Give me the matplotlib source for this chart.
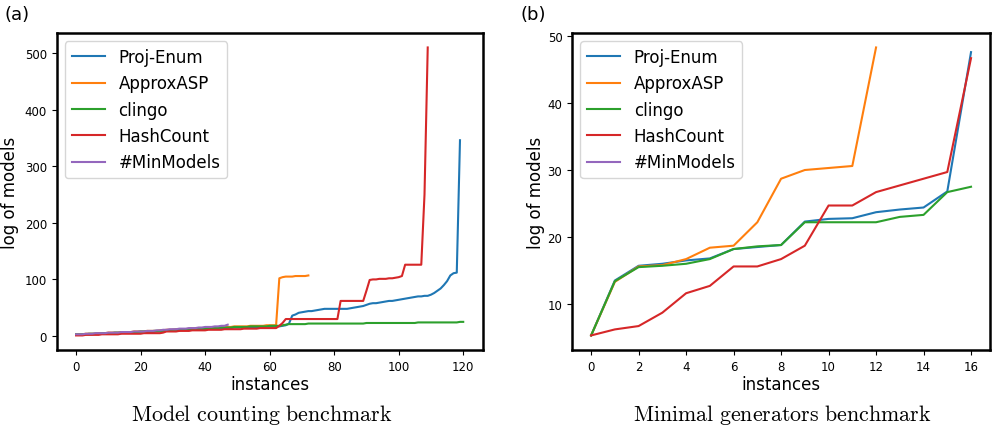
import matplotlib
matplotlib.use('Agg')
import matplotlib.pyplot as plt

plt.rcParams['mathtext.fontset'] = 'cm'

labels = ["Proj-Enum", "ApproxASP", "clingo", "HashCount", "#MinModels"]
colors = ['#1f77b4', '#ff7f0e', '#2ca02c', '#d62728', '#9467bd']

# ── (a) Model counting benchmark: log of models per instance (sorted) ──
a_proj = [2, 2, 3, 3, 3, 3, 4, 4, 4, 4,
          5, 5, 5, 5, 5, 6, 6, 6, 6, 6,
          7, 7, 7, 7, 7, 8, 8, 8, 9, 9,
          10, 10, 10, 11, 11, 11, 11, 12, 12, 12,
          12, 13, 13, 13, 13, 14, 14, 14, 14, 15,
          15, 15, 15, 15, 16, 16, 16, 16, 16, 17,
          17, 17, 17, 17, 18, 19, 22, 36, 38, 41,
          42, 43, 44, 44, 45, 46, 47, 48, 48, 48,
          48, 48, 48, 48, 48, 49, 50, 51, 52, 53,
          55, 57, 58, 58, 59, 60, 61, 62, 62, 63,
          64, 65, 66, 67, 68, 69, 70, 70, 71, 71,
          73, 76, 80, 84, 90, 97, 107, 111, 112, 346]
a_approx = [3, 3, 3, 4, 4, 4, 4, 5, 5, 5,
            6, 6, 6, 6, 7, 7, 7, 7, 8, 8,
            8, 8, 9, 9, 9, 9, 10, 10, 11, 11,
            11, 12, 12, 12, 12, 13, 13, 13, 14, 14,
            14, 14, 15, 15, 15, 16, 16, 16, 16, 17,
            17, 17, 17, 17, 18, 18, 18, 18, 18, 19,
            19, 19, 19, 102, 104, 105, 105, 105, 106, 106,
            106, 106, 107]
a_clingo = [3, 3, 3, 3, 4, 4, 4, 4, 5, 5,
            5, 5, 6, 6, 6, 6, 7, 7, 7, 7,
            8, 8, 8, 8, 9, 9, 9, 10, 10, 10,
            11, 11, 11, 12, 12, 12, 12, 13, 13, 13,
            13, 14, 14, 14, 14, 15, 15, 15, 15, 16,
            16, 16, 16, 16, 17, 17, 17, 17, 17, 17,
            18, 18, 18, 18, 19, 20, 21, 21, 21, 21,
            21, 21, 22, 22, 22, 22, 22, 22, 22, 22,
            22, 22, 22, 22, 22, 22, 22, 22, 22, 22,
            23, 23, 23, 23, 23, 23, 23, 23, 23, 23,
            23, 23, 23, 23, 23, 23, 24, 24, 24, 24,
            24, 24, 24, 24, 24, 24, 24, 24, 24, 25,
            25]
a_hash = [1, 1, 1, 2, 2, 2, 2, 2, 3, 3,
          3, 3, 3, 3, 4, 4, 4, 4, 4, 4,
          4, 5, 5, 5, 5, 5, 5, 6, 8, 8,
          8, 8, 9, 9, 9, 9, 10, 10, 10, 10,
          10, 11, 11, 11, 11, 11, 12, 12, 12, 12,
          12, 12, 13, 13, 13, 13, 13, 14, 14, 14,
          14, 14, 14, 18, 23, 30, 30, 30, 30, 30,
          30, 30, 30, 30, 30, 30, 30, 30, 30, 30,
          30, 30, 62, 62, 62, 62, 62, 62, 62, 62,
          80, 99, 100, 100, 101, 101, 101, 102, 102, 103,
          104, 106, 126, 126, 126, 126, 126, 126, 250, 510]
a_minmod = [3, 3, 3, 4, 4, 4, 5, 5, 5, 5,
            6, 6, 6, 6, 7, 7, 7, 7, 8, 8,
            8, 8, 9, 9, 9, 10, 10, 11, 11, 12,
            12, 12, 13, 13, 13, 14, 14, 14, 15, 15,
            16, 16, 16, 17, 17, 18, 18, 20]

# ── (b) Minimal generators benchmark ──
b_proj = [5.3, 13.5, 15.7, 16.0, 16.5, 16.8, 18.2, 18.5, 18.8,
          22.3, 22.7, 22.8, 23.7, 24.1, 24.4, 26.8, 47.6]
b_approx = [5.3, 13.3, 15.6, 15.8, 16.7, 18.4, 18.7, 22.2, 28.7,
            30.0, 30.3, 30.6, 48.3]
b_clingo = [5.3, 13.4, 15.5, 15.7, 16.0, 16.7, 18.2, 18.6, 18.8,
            22.2, 22.2, 22.2, 22.2, 23.0, 23.3, 26.7, 27.5]
b_hash = [5.3, 6.2, 6.7, 8.7, 11.6, 12.7, 15.6, 15.6, 16.7,
          18.7, 24.7, 24.7, 26.7, 27.7, 28.7, 29.7, 46.7]
b_minmod = []

fig = plt.figure(figsize=(9.95, 4.31), dpi=100)
ax1 = fig.add_axes([0.057, 0.186, 0.428, 0.735])
ax2 = fig.add_axes([0.575, 0.186, 0.420, 0.735])

for ax, series in [(ax1, [a_proj, a_approx, a_clingo, a_hash, a_minmod]),
                   (ax2, [b_proj, b_approx, b_clingo, b_hash, b_minmod])]:
    for ys, lab, c in zip(series, labels, colors):
        ax.plot(range(len(ys)), ys, color=c, linewidth=1.5, label=lab)
    ax.set_xlabel('instances', fontsize=12, labelpad=2)
    ax.set_ylabel('log of models', fontsize=12)
    ax.tick_params(labelsize=8.5)
    for sp in ax.spines.values():
        sp.set_linewidth(1.8)
    ax.legend(loc='upper left', fontsize=12)

ax2.set_xticks(range(0, 17, 2))
ax2.yaxis.labelpad = 2

fig.text(0.005, 0.965, '(a)', fontsize=13, va='center', ha='left')
fig.text(0.523, 0.965, '(b)', fontsize=13, va='center', ha='left')
fig.text(0.263, 0.036, r'$\mathrm{Model\ counting\ benchmark}$', fontsize=15.8,
         ha='center', va='center')
fig.text(0.786, 0.036, r'$\mathrm{Minimal\ generators\ benchmark}$', fontsize=15.8,
         ha='center', va='center')

plt.savefig('out.png', dpi=100)
